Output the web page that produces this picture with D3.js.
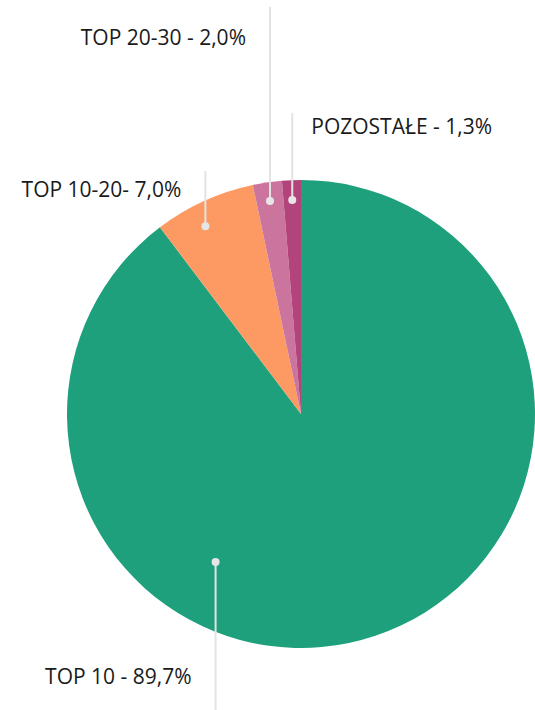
<!DOCTYPE html>
<html>
<head>
<meta charset="utf-8">
<script src="https://cdn.jsdelivr.net/npm/d3@7"></script>
<style>
  body { margin: 0; background: #fff; }
  text { font-family: "Open Sans", sans-serif; fill: #1a1a1a; }
</style>
</head>
<body>
<div class="chart"></div>
<script>
var width = 535, height = 710;

var categories = ['TOP 10', 'TOP 10-20', 'TOP 20-30', 'POZOSTAŁE'];
var values = [89.7, 7.0, 2.0, 1.3];
var labels = ['TOP 10 - 89,7%', 'TOP 10-20- 7,0%', 'TOP 20-30 - 2,0%', 'POZOSTAŁE - 1,3%'];
var colors = ['#1ea07d', '#fd9a63', '#ca749e', '#b3447b'];

// label layout: dot angle (deg, null = slice middle), dot radius fraction, line end y, text side
var labelLayout = [
  { angle: 210, rf: 0.73, lineEnd: 712, side: 'left', dy: -35 },
  { angle: 333, rf: 0.9, lineEnd: 171, side: 'left', dy: 19 },
  { angle: null, rf: 0.92, lineEnd: 7, side: 'left', dy: 31 },
  { angle: null, rf: 0.915, lineEnd: 113, side: 'right', dy: 14 }
];

var cx = 301, cy = 414, radius = 234;

var data = categories.map(function (c, i) {
  return { name: c, value: values[i], label: labels[i], color: colors[i], layout: labelLayout[i] };
});

var svg = d3.select('.chart').append('svg')
  .attr('width', width)
  .attr('height', height);

var g = svg.append('g')
  .attr('transform', 'translate(' + cx + ',' + cy + ')');

var pie = d3.pie()
  .sort(null)
  .value(function (d) { return d.value; });

var arc = d3.arc()
  .innerRadius(0)
  .outerRadius(radius);

var arcs = pie(data);

g.selectAll('.slice')
  .data(arcs)
  .enter().append('path')
  .attr('class', 'slice')
  .attr('d', arc)
  .attr('fill', function (d) { return d.data.color; });

// dot position for each label
function dotPos(d) {
  var L = d.data.layout;
  var a = L.angle === null ? (d.startAngle + d.endAngle) / 2 : L.angle * Math.PI / 180;
  var r = radius * L.rf;
  return [Math.sin(a) * r, -Math.cos(a) * r];
}

var lab = g.selectAll('.label')
  .data(arcs)
  .enter().append('g')
  .attr('class', 'label');

lab.append('line')
  .attr('x1', function (d) { return dotPos(d)[0]; })
  .attr('y1', function (d) { return dotPos(d)[1]; })
  .attr('x2', function (d) { return dotPos(d)[0]; })
  .attr('y2', function (d) { return d.data.layout.lineEnd - cy; })
  .style('stroke', '#e3e3e3')
  .style('stroke-width', 2);

lab.append('circle')
  .attr('cx', function (d) { return dotPos(d)[0]; })
  .attr('cy', function (d) { return dotPos(d)[1]; })
  .attr('r', 4)
  .style('fill', '#e6e6e6');

lab.append('text')
  .attr('x', function (d) {
    var p = dotPos(d);
    return d.data.layout.side === 'left' ? p[0] - 24 : p[0] + 19;
  })
  .attr('y', function (d) { return d.data.layout.lineEnd - cy + d.data.layout.dy; })
  .attr('dy', '0.35em')
  .attr('text-anchor', function (d) { return d.data.layout.side === 'left' ? 'end' : 'start'; })
  .style('font-size', '21px')
  .text(function (d) { return d.data.label; });
</script>
</body>
</html>
